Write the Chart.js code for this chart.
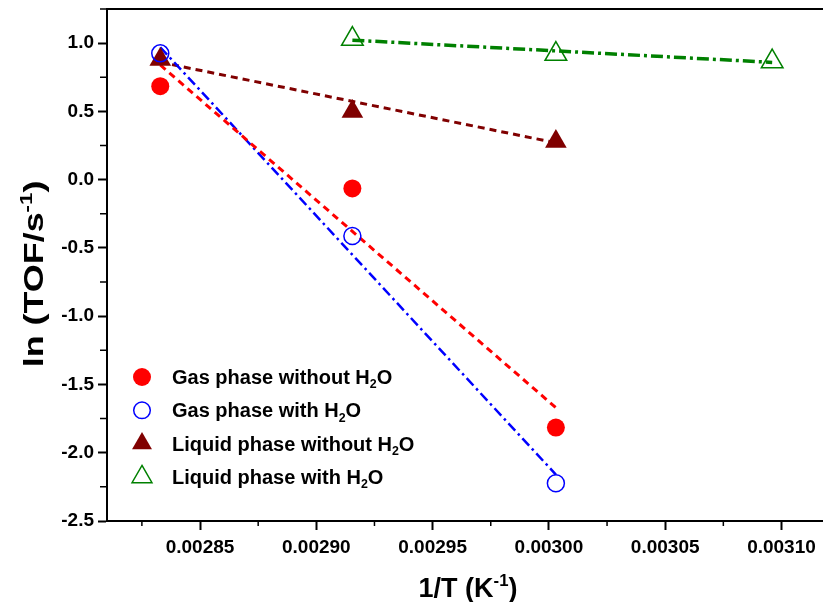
<!DOCTYPE html>
<html>
<head>
<meta charset="utf-8">
<script src="https://cdn.jsdelivr.net/npm/chart.js@4/dist/chart.umd.min.js"></script>
<style>
  html, body { margin: 0; padding: 0; background: #fff; overflow: hidden; }
  #chart { display: block; }
</style>
</head>
<body>
<canvas id="chart" width="830" height="602"></canvas>
<script>
// 1/T values (K^-1) for 353, 343, 333, 323 K
const invT = [0.0028329, 0.0029155, 0.0030030, 0.0030960];

// ln(TOF)
const gasDry = [0.685, -0.064, -1.816];   // Gas phase without H2O
const gasWet = [0.925, -0.413, -2.223];   // Gas phase with H2O
const liqDry = [0.88, 0.50, 0.28];        // Liquid phase without H2O
const liqWet = [1.03, 0.92, 0.865];       // Liquid phase with H2O (343, 333, 323 K)

// fitted line end points
const gasDryFit = [0.84, -1.67];
const gasWetFit = [0.97, -2.16];
const liqDryFit = [0.86, 0.27];
const liqWetFit = [1.022, 0.859];

const xTicks = [0.00285, 0.00290, 0.00295, 0.00300, 0.00305, 0.00310];
const yTicks = [-2.5, -2.0, -1.5, -1.0, -0.5, 0.0, 0.5, 1.0];

const legendItems = [
  { pre: "Gas phase without H", post: "O", style: "circle", fill: true, color: "#ff0000" },
  { pre: "Gas phase with H", post: "O", style: "circle", fill: false, color: "#0000ff" },
  { pre: "Liquid phase without H", post: "O", style: "triangle", fill: true, color: "#800000" },
  { pre: "Liquid phase with H", post: "O", style: "triangle", fill: false, color: "#008000" }
];

const FONT = "'Liberation Sans', Arial, sans-serif";

function pts(xs, ys) {
  return ys.map((v, i) => ({ x: xs[i], y: v }));
}

function fitLine(xs, ys, color, dash, width) {
  return {
    type: "line",
    data: pts(xs, ys),
    borderColor: color,
    borderWidth: width,
    borderDash: dash,
    pointRadius: 0,
    fill: false,
    order: 2
  };
}

function marks(xs, ys, style, color, filled, r) {
  return {
    type: "scatter",
    data: pts(xs, ys),
    pointStyle: style,
    pointRadius: r,
    pointHoverRadius: r,
    pointBackgroundColor: filled ? color : "rgba(0,0,0,0)",
    pointBorderColor: color,
    pointBorderWidth: filled ? 0 : 1.5,
    order: 1
  };
}

// text with raised / lowered parts
function measureRich(ctx, parts, size) {
  let total = 0;
  parts.forEach(p => {
    ctx.font = "bold " + (p.s ? size * 0.62 : size) + "px " + FONT;
    p.w = ctx.measureText(p.t).width;
    total += p.w;
  });
  return total;
}
function drawRich(ctx, parts, x, y, size, align) {
  const total = measureRich(ctx, parts, size);
  let cx = align === "center" ? x - total / 2 : x;
  ctx.textAlign = "left";
  ctx.textBaseline = "alphabetic";
  parts.forEach(p => {
    ctx.font = "bold " + (p.s ? size * 0.62 : size) + "px " + FONT;
    let dy = 0;
    if (p.s === 1) dy = -size * 0.42;
    if (p.s === -1) dy = size * 0.22;
    ctx.fillText(p.t, cx, y + dy);
    cx += p.w;
  });
}

const framePlugin = {
  id: "frame",
  afterDraw(chart) {
    const ctx = chart.ctx;
    const a = chart.chartArea;
    const xs = chart.scales.x, ys = chart.scales.y;
    ctx.save();
    ctx.strokeStyle = "#000";
    ctx.lineWidth = 2;
    // top and right border
    ctx.beginPath();
    ctx.moveTo(a.left - 1, a.top);
    ctx.lineTo(a.right, a.top);
    ctx.lineTo(a.right, a.bottom);
    ctx.stroke();

    // minor ticks
    ctx.lineWidth = 1.5;
    ctx.beginPath();
    for (let i = 0; i <= xTicks.length; i++) {
      const v = i === 0 ? xTicks[0] - 0.000025 : xTicks[i - 1] + 0.000025;
      const px = xs.getPixelForValue(v);
      if (px < a.left || px > a.right) continue;
      ctx.moveTo(px, a.bottom);
      ctx.lineTo(px, a.bottom + 5);
    }
    for (let i = 0; i < yTicks.length; i++) {
      const py = ys.getPixelForValue(yTicks[i] + 0.25);
      if (py < a.top - 1) continue;
      ctx.moveTo(a.left, py);
      ctx.lineTo(a.left - 7, py);
    }
    ctx.stroke();

    // axis titles
    ctx.fillStyle = "#000";
    drawRich(ctx, [{ t: "1/T (K", s: 0 }, { t: "-1", s: 1 }, { t: ")", s: 0 }],
      468, 597, 27, "center");
    ctx.save();
    ctx.translate(43, 274);
    ctx.rotate(-Math.PI / 2);
    ctx.scale(1.33, 1);
    drawRich(ctx, [{ t: "ln (TOF/s", s: 0 }, { t: "-1", s: 1 }, { t: ")", s: 0 }],
      0, 0, 27, "center");
    ctx.restore();

    // legend
    const lx = 142, tx = 172;
    legendItems.forEach((it, i) => {
      const cy = 377 + i * 33.3;
      ctx.fillStyle = it.color;
      ctx.strokeStyle = it.color;
      ctx.lineWidth = 1.5;
      ctx.beginPath();
      if (it.style === "circle") {
        ctx.arc(lx, cy, it.fill ? 9 : 8.3, 0, Math.PI * 2);
      } else {
        const r = 11.5;
        ctx.moveTo(lx, cy - r);
        ctx.lineTo(lx + r * 0.866, cy + r / 2);
        ctx.lineTo(lx - r * 0.866, cy + r / 2);
        ctx.closePath();
      }
      if (it.fill) ctx.fill(); else ctx.stroke();
      ctx.fillStyle = "#000";
      drawRich(ctx, [{ t: it.pre, s: 0 }, { t: "2", s: -1 }, { t: it.post, s: 0 }],
        tx, cy + 7, 20, "left");
    });
    ctx.restore();
  }
};

const tickFont = { family: FONT, size: 19, weight: "bold" };

new Chart(document.getElementById("chart"), {
  type: "scatter",
  data: {
    datasets: [
      marks(invT.slice(0, 3), gasDry, "circle", "#ff0000", true, 9),
      marks(invT.slice(0, 3), gasWet, "circle", "#0000ff", false, 8.5),
      marks(invT.slice(0, 3), liqDry, "triangle", "#800000", true, 12.5),
      marks(invT.slice(1, 4), liqWet, "triangle", "#008000", false, 12.5),
      fitLine([invT[0], invT[2]], gasDryFit, "#ff0000", [7, 5], 3),
      fitLine([invT[0], invT[2]], gasWetFit, "#0000ff", [10, 4, 2.5, 4], 2.5),
      fitLine([invT[0], invT[2]], liqDryFit, "#800000", [7, 5], 3),
      fitLine([invT[1], invT[3]], liqWetFit, "#008000", [12, 4, 3, 4], 3.5)
    ]
  },
  options: {
    responsive: false,
    animation: false,
    devicePixelRatio: 1,
    layout: { autoPadding: false, padding: { left: 0, top: 9, right: 2, bottom: 0 } },
    plugins: { legend: { display: false }, tooltip: { enabled: false } },
    scales: {
      x: {
        type: "linear",
        min: 0.00281,
        max: 0.00312,
        afterFit(s) { s.height = 81; s.paddingLeft = 0; s.paddingRight = 0; },
        afterBuildTicks(s) { s.ticks = xTicks.map(v => ({ value: v })); },
        border: { display: true, color: "#000", width: 2 },
        grid: { display: true, drawOnChartArea: false, drawTicks: true, tickLength: 9, tickWidth: 2, color: "#000" },
        ticks: {
          color: "#000",
          font: tickFont,
          padding: 6,
          maxRotation: 0,
          callback: v => v.toFixed(5)
        }
      },
      y: {
        type: "linear",
        min: -2.5,
        max: 1.25,
        afterFit(s) { s.width = 107; s.paddingTop = 0; s.paddingBottom = 0; },
        afterBuildTicks(s) { s.ticks = yTicks.map(v => ({ value: v })); },
        border: { display: true, color: "#000", width: 2 },
        grid: { display: true, drawOnChartArea: false, drawTicks: true, tickLength: 9, tickWidth: 2, color: "#000" },
        ticks: {
          color: "#000",
          font: tickFont,
          padding: 4,
          callback: v => v.toFixed(1)
        }
      }
    }
  },
  plugins: [framePlugin]
});
</script>
</body>
</html>
